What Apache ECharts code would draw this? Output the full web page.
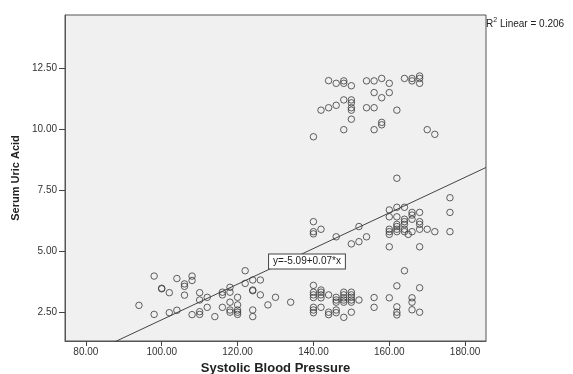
<!DOCTYPE html>
<html>
<head>
<meta charset="utf-8">
<script src="https://cdn.jsdelivr.net/npm/echarts@6/dist/echarts.min.js"></script>
<style>
  html, body { margin: 0; padding: 0; background: #fff; }
  #chart { width: 573px; height: 374px; }
</style>
</head>
<body>
<div id="chart"></div>
<script>
// systolic blood pressure (x) and serum uric acid (y)
var sbp = [
  94, 98, 98, 100, 100, 102, 102, 104, 104, 106, 106, 106, 108, 108, 108,
  110, 110, 110, 110, 112, 112, 114, 116, 116, 116, 118, 118, 118, 118, 118,
  120, 120, 120, 120, 120, 122, 122, 124, 124, 124, 124, 124, 126, 126, 128, 130, 134,
  // lower band 140+
  140, 140, 140, 140, 140, 140, 140, 142, 142, 142, 142, 142, 144, 144, 144,
  146, 146, 146, 146, 146, 148, 148, 148, 148, 148, 148, 150, 150, 150, 150, 150, 150,
  152, 156, 156, 160, 162, 162, 162, 162, 164, 166, 166, 166, 168, 168,
  // middle band
  140, 140, 140, 142, 146, 150, 152, 152, 154,
  160, 160, 160, 160, 160, 160, 162, 162, 162, 162, 162, 162, 162,
  164, 164, 164, 164, 164, 164, 165, 166, 166, 166, 166,
  168, 168, 168, 168, 168, 170, 172, 176, 176, 176,
  // upper band
  140, 142, 144, 144, 146, 146, 148, 148, 148, 148,
  150, 150, 150, 150, 150, 150, 154, 154, 156, 156, 156, 156,
  158, 158, 158, 158, 160, 160, 162, 164, 166, 166, 168, 168, 168, 170, 172
];
var uricAcid = [
  2.80, 4.00, 2.43, 3.50, 3.48, 3.32, 2.50, 3.90, 2.60, 3.68, 3.58, 3.22, 4.00, 3.82, 2.42,
  3.32, 3.02, 2.54, 2.43, 3.13, 2.72, 2.34, 3.34, 3.23, 2.72, 3.54, 3.34, 2.93, 2.61, 2.52,
  3.13, 2.82, 2.61, 2.52, 2.43, 4.22, 3.70, 3.84, 3.43, 3.40, 2.61, 2.34, 3.84, 3.23, 2.82, 3.13, 2.93,
  3.62, 3.34, 3.23, 3.12, 2.72, 2.61, 2.50, 3.43, 3.34, 3.23, 3.11, 2.72, 3.23, 2.52, 2.42,
  3.13, 3.02, 2.93, 2.61, 2.50, 3.34, 3.23, 3.11, 3.02, 2.93, 2.31, 3.34, 3.23, 3.13, 3.02, 2.93, 2.52,
  3.02, 3.12, 2.72, 3.11, 3.60, 2.74, 2.52, 2.41, 4.22, 3.11, 2.93, 2.62, 3.52, 2.52,
  6.23, 5.82, 5.73, 5.92, 5.61, 5.32, 6.03, 5.41, 5.61,
  6.71, 6.43, 5.92, 5.82, 5.71, 5.20, 8.01, 6.82, 6.43, 6.12, 6.03, 5.92, 5.82,
  6.82, 6.33, 6.23, 6.12, 5.92, 5.82, 5.71, 6.61, 6.50, 6.33, 5.82,
  6.61, 6.23, 6.12, 5.92, 5.20, 5.92, 5.82, 7.21, 6.61, 5.82,
  9.71, 10.80, 12.01, 10.90, 11.90, 11.00, 12.00, 11.90, 11.22, 10.00,
  11.80, 11.22, 11.10, 10.90, 10.80, 10.43, 12.00, 10.90, 12.00, 11.52, 10.90, 10.00,
  12.10, 11.31, 10.30, 10.20, 11.90, 11.52, 10.80, 12.10, 12.10, 12.00, 12.20, 12.10, 11.90, 10.00, 9.81
];
var xTicks = [80, 100, 120, 140, 160, 180];
var yTicks = [2.5, 5, 7.5, 10, 12.5];
var xRange = [74.5, 185.5];
var yRange = [1.34, 14.7];
// linear fit shown in the picture
var fitIntercept = -5.09;
var fitSlope = 0.073;
var fitLabel = 'y=-5.09+0.07*x';
var fitLabelAt = [138.3, 4.6];
var rSquared = '0.206';

var points = sbp.map(function (x, i) { return [x, uricAcid[i]] })
var fitLine = xRange.map(function (x) { return [x, fitIntercept + fitSlope * x] })

var chart = echarts.init(document.getElementById('chart'))
chart.setOption({
  animation: false,
  backgroundColor: '#fff',
  textStyle: { fontFamily: 'Liberation Sans, Arial, sans-serif' },
  grid: {
    show: true,
    left: 65, right: 87, top: 15, bottom: 33,
    outerBoundsMode: 'none',
    containLabel: false,
    backgroundColor: '#f0f0f0',
    borderColor: '#555',
    borderWidth: 1
  },
  xAxis: {
    type: 'value',
    min: xRange[0], max: xRange[1],
    name: 'Systolic Blood Pressure',
    nameLocation: 'middle',
    nameGap: 20,
    nameTextStyle: { fontSize: 13, fontWeight: 'bold', color: '#222' },
    splitLine: { show: false },
    axisLine: { show: true, onZero: false, lineStyle: { color: '#555', width: 1 } },
    axisTick: { show: true, length: 5, customValues: xTicks, lineStyle: { color: '#444' } },
    axisLabel: {
      customValues: xTicks, margin: 6, fontSize: 10, color: '#333',
      formatter: function (v) { return v.toFixed(2) }
    }
  },
  yAxis: {
    type: 'value',
    min: yRange[0], max: yRange[1],
    name: 'Serum Uric Acid',
    nameLocation: 'middle',
    nameGap: 35,
    nameRotate: 90,
    nameTextStyle: { fontSize: 11, fontWeight: 'bold', color: '#222' },
    splitLine: { show: false },
    axisLine: { show: true, onZero: false, lineStyle: { color: '#555', width: 1 } },
    axisTick: { show: true, length: 6, customValues: yTicks, lineStyle: { color: '#444' } },
    axisLabel: {
      customValues: yTicks, margin: 8, fontSize: 10, color: '#333',
      formatter: function (v) { return v.toFixed(2) }
    }
  },
  graphic: [{
    type: 'text',
    left: 486, top: 17,
    style: {
      text: '{a|R}{s|2}{a| Linear = ' + rSquared + '}',
      rich: {
        a: { fontSize: 10, fill: '#222', fontFamily: 'Liberation Sans, Arial, sans-serif', verticalAlign: 'bottom', lineHeight: 12 },
        s: { fontSize: 7, fill: '#222', fontFamily: 'Liberation Sans, Arial, sans-serif', verticalAlign: 'top', lineHeight: 12 }
      }
    }
  }],
  series: [{
    type: 'scatter',
    data: points,
    symbol: 'circle',
    symbolSize: 6.5,
    itemStyle: { color: 'rgba(0,0,0,0)', borderColor: '#3a3a3a', borderWidth: 1 },
    z: 3
  }, {
    type: 'line',
    data: fitLine,
    showSymbol: false,
    symbol: 'none',
    clip: true,
    lineStyle: { color: '#444', width: 1 },
    z: 2,
    markPoint: {
      symbol: 'rect',
      symbolSize: 0,
      data: [{ coord: fitLabelAt }],
      label: {
        show: true,
        position: 'inside',
        formatter: fitLabel,
        fontSize: 10,
        color: '#222',
        backgroundColor: '#fff',
        borderColor: '#444',
        borderWidth: 1,
        padding: [2, 4]
      }
    }
  }]
})
</script>
</body>
</html>
